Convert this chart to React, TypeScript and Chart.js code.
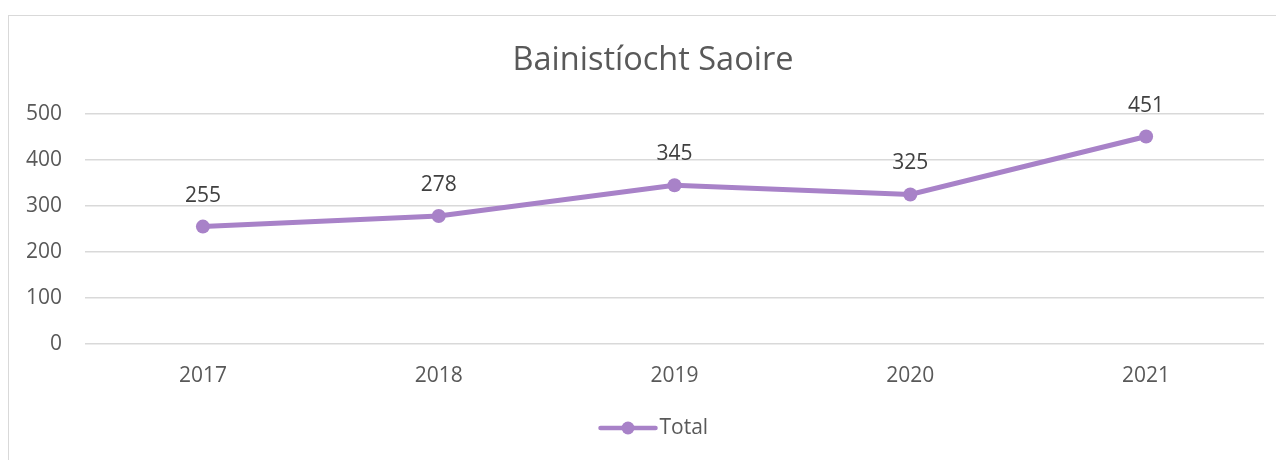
import React, { useEffect, useRef } from "react";
import { Chart, registerables } from "chart.js";

Chart.register(...registerables);

const categories: string[] = ["2017", "2018", "2019", "2020", "2021"];
const totalValues: number[] = [255, 278, 345, 325, 451];
const seriesName = "Total";
const chartTitle = "Bainistíocht Saoire";
const yTicks: number[] = [0, 100, 200, 300, 400, 500];

const LINE_COLOR = "#A882C8";
const TEXT_COLOR = "#595959";
const LABEL_COLOR = "#404040";
const GRID_COLOR = "#D9D9D9";
const FONT = "'Open Sans', 'Noto Sans', sans-serif";

const titlePlugin = {
  id: "customTitle",
  afterDraw(chart: any) {
    const ctx = chart.ctx;
    ctx.save();
    ctx.font = `32.5px ${FONT}`;
    ctx.fillStyle = TEXT_COLOR;
    ctx.textAlign = "center";
    ctx.textBaseline = "alphabetic";
    ctx.fillText(chartTitle, 644, 54);
    ctx.restore();
  },
};

const dataLabelPlugin = {
  id: "dataLabels",
  afterDatasetsDraw(chart: any) {
    const ctx = chart.ctx;
    const meta = chart.getDatasetMeta(0);
    ctx.save();
    ctx.font = `21px ${FONT}`;
    ctx.fillStyle = LABEL_COLOR;
    ctx.textAlign = "center";
    ctx.textBaseline = "middle";
    meta.data.forEach((pt: any, i: number) => {
      ctx.fillText(String(chart.data.datasets[0].data[i]), pt.x, pt.y - 31);
    });
    ctx.restore();
  },
};

const legendPlugin = {
  id: "customLegend",
  afterDraw(chart: any) {
    const ctx = chart.ctx;
    const cx = (chart.chartArea.left + chart.chartArea.right) / 2;
    const y = 412;
    const x0 = cx - 74;
    ctx.save();
    ctx.strokeStyle = LINE_COLOR;
    ctx.lineWidth = 4.5;
    ctx.lineCap = "round";
    ctx.beginPath();
    ctx.moveTo(x0, y);
    ctx.lineTo(x0 + 55, y);
    ctx.stroke();
    ctx.fillStyle = LINE_COLOR;
    ctx.beginPath();
    ctx.arc(x0 + 27.5, y, 6.5, 0, Math.PI * 2);
    ctx.fill();
    ctx.font = `21px ${FONT}`;
    ctx.fillStyle = TEXT_COLOR;
    ctx.textAlign = "left";
    ctx.textBaseline = "middle";
    ctx.fillText(chart.data.datasets[0].label, x0 + 59, y);
    ctx.restore();
  },
};

export default function App() {
  const canvasRef = useRef<HTMLCanvasElement | null>(null);

  useEffect(() => {
    if (!canvasRef.current) return;
    const chart = new Chart(canvasRef.current, {
      type: "line",
      data: {
        labels: categories,
        datasets: [
          {
            label: seriesName,
            data: totalValues,
            borderColor: LINE_COLOR,
            backgroundColor: LINE_COLOR,
            borderWidth: 5,
            pointRadius: 7,
            pointHoverRadius: 7,
            pointBackgroundColor: LINE_COLOR,
            pointBorderWidth: 0,
            tension: 0,
          },
        ],
      },
      options: {
        responsive: false,
        animation: false,
        layout: { padding: { left: 0, right: 20, top: 98, bottom: 51 } },
        plugins: {
          legend: { display: false },
          tooltip: { enabled: false },
          title: { display: false },
        },
        scales: {
          x: {
            offset: true,
            grid: { display: false, drawTicks: false },
            border: { display: false },
            ticks: {
              color: TEXT_COLOR,
              font: { family: FONT, size: 21, lineHeight: 1.2 },
              padding: 20,
            },
          },
          y: {
            min: 0,
            max: 500,
            afterFit: (scale: any) => {
              scale.width = 76;
            },
            afterBuildTicks: (scale: any) => {
              scale.ticks = yTicks.map((v) => ({ value: v }));
            },
            grid: { color: GRID_COLOR, lineWidth: 1.5, drawTicks: false },
            border: { display: false },
            ticks: {
              color: TEXT_COLOR,
              font: { family: FONT, size: 21, lineHeight: 1.2 },
              padding: 23,
            },
          },
        },
      },
      plugins: [titlePlugin, dataLabelPlugin, legendPlugin],
    });
    return () => chart.destroy();
  }, []);

  return (
    <div
      style={{
        marginTop: 7,
        borderTop: "1.5px solid #D9D9D9",
        borderLeft: "1.5px solid #D9D9D9",
        width: 1276,
        height: 445,
        boxSizing: "border-box",
        background: "#fff",
      }}
    >
      <canvas ref={canvasRef} width={1275} height={444} style={{ display: "block" }} />
    </div>
  );
}
